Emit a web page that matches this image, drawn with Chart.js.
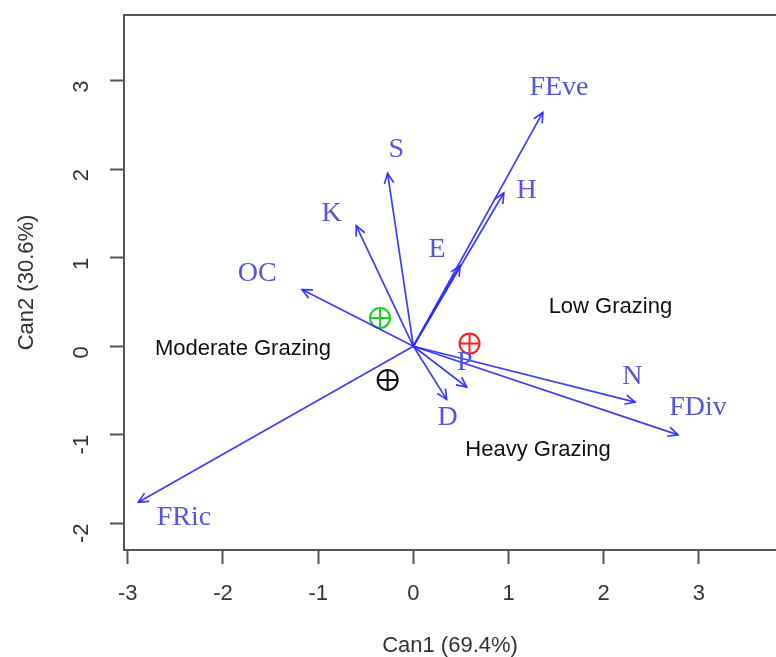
<!DOCTYPE html>
<html>
<head>
<meta charset="utf-8">
<script src="https://cdn.jsdelivr.net/npm/chart.js@4.4.0/dist/chart.umd.min.js"></script>
<style>
  html, body { margin: 0; padding: 0; background: #fff; }
  #wrap { width: 776px; height: 657px; }
</style>
</head>
<body>
<div id="wrap"><canvas id="biplot"></canvas></div>
<script>
// variable vectors (Can1, Can2)
const vars = ["FEve", "H", "E", "S", "K", "OC", "FRic", "D", "P", "N", "FDiv"];
const can1 = [1.36, 0.95, 0.49, -0.27, -0.60, -1.17, -2.89, 0.35, 0.56, 2.33, 2.78];
const can2 = [2.64, 1.73, 0.91, 1.95, 1.36, 0.64, -1.76, -0.60, -0.46, -0.63, -1.00];
// where each variable name sits
const labX = [1.53, 1.19, 0.25, -0.18, -0.86, -1.64, -2.41, 0.36, 0.54, 2.30, 2.99];
const labY = [2.92, 1.76, 1.09, 2.22, 1.50, 0.82, -1.94, -0.81, -0.19, -0.34, -0.69];

// group centroids
const groups = ["Low Grazing", "Moderate Grazing", "Heavy Grazing"];
const groupX = [0.59, -0.35, -0.27];
const groupY = [0.03, 0.32, -0.38];
const groupColors = ["#ff2020", "#22cc22", "#111111"];
const groupLabX = [2.07, -1.79, 1.31];
const groupLabY = [0.44, -0.03, -1.17];

const xTicks = [-3, -2, -1, 0, 1, 2, 3];
const yTicks = [-2, -1, 0, 1, 2, 3];

const arrowColor = "rgba(40, 40, 255, 0.9)";
const labelColor = "#5555dd";
const axisColor = "#555555";
const sans = '"Liberation Sans", Arial, sans-serif';

const datasets = [];
vars.forEach((v, i) => {
  datasets.push({
    label: v,
    data: [{ x: 0, y: 0 }, { x: can1[i], y: can2[i] }],
    showLine: true,
    borderColor: arrowColor,
    borderWidth: 1.7,
    pointRadius: 0,
    arrow: true,
  });
});
groups.forEach((g, i) => {
  datasets.push({
    label: g,
    data: [{ x: groupX[i], y: groupY[i] }],
    pointStyle: "circle",
    pointRadius: 10,
    borderColor: groupColors[i],
    backgroundColor: "rgba(0,0,0,0)",
    borderWidth: 2,
  });
  datasets.push({
    label: g + " cross",
    data: [{ x: groupX[i], y: groupY[i] }],
    pointStyle: "cross",
    pointRadius: 10,
    borderColor: groupColors[i],
    borderWidth: 2,
  });
});

const biplotExtras = {
  id: "biplotExtras",
  afterDatasetsDraw(chart) {
    const ctx = chart.ctx;
    const xs = chart.scales.x;
    const ys = chart.scales.y;
    const area = chart.chartArea;

    // arrow heads
    ctx.save();
    ctx.strokeStyle = arrowColor;
    ctx.lineWidth = 1.7;
    chart.data.datasets.forEach((ds, i) => {
      if (!ds.arrow) return;
      const pts = chart.getDatasetMeta(i).data;
      const a = pts[0], b = pts[1];
      const ang = Math.atan2(b.y - a.y, b.x - a.x);
      const len = 11, spread = Math.PI / 7;
      ctx.beginPath();
      ctx.moveTo(b.x - len * Math.cos(ang - spread), b.y - len * Math.sin(ang - spread));
      ctx.lineTo(b.x, b.y);
      ctx.lineTo(b.x - len * Math.cos(ang + spread), b.y - len * Math.sin(ang + spread));
      ctx.stroke();
    });
    ctx.restore();

    // variable names
    ctx.save();
    ctx.fillStyle = labelColor;
    ctx.font = '28px "Liberation Serif", "DejaVu Serif", serif';
    ctx.textAlign = "center";
    ctx.textBaseline = "middle";
    vars.forEach((v, i) => {
      ctx.fillText(v, xs.getPixelForValue(labX[i]), ys.getPixelForValue(labY[i]));
    });

    // group names
    ctx.fillStyle = "#111";
    ctx.font = "22px " + sans;
    groups.forEach((g, i) => {
      ctx.fillText(g, xs.getPixelForValue(groupLabX[i]), ys.getPixelForValue(groupLabY[i]));
    });
    ctx.restore();

    // top frame line (R box, right side runs off the image)
    ctx.save();
    ctx.strokeStyle = axisColor;
    ctx.lineWidth = 2;
    ctx.beginPath();
    ctx.moveTo(area.left - 1, area.top);
    ctx.lineTo(area.right + 2, area.top);
    ctx.stroke();
    ctx.restore();
  },
};

new Chart(document.getElementById("biplot"), {
  type: "scatter",
  data: { datasets },
  plugins: [biplotExtras],
  options: {
    responsive: true,
    maintainAspectRatio: false,
    animation: false,
    layout: { autoPadding: false, padding: { top: 15, right: 0, left: 0, bottom: 0 } },
    plugins: { legend: { display: false }, tooltip: { enabled: false } },
    scales: {
      x: {
        type: "linear",
        min: -3.04,
        max: 3.81,
        afterBuildTicks: (s) => { s.ticks = xTicks.map((v) => ({ value: v })); },
        afterFit: (s) => { s.height = 107; s.paddingLeft = 0; s.paddingRight = 0; },
        grid: { drawOnChartArea: false, drawTicks: true, tickLength: 14, tickColor: axisColor, tickWidth: 2 },
        border: { display: true, color: axisColor, width: 2 },
        ticks: { color: "#333", padding: 17, font: { family: sans, size: 22 } },
        title: { display: true, text: "Can1 (69.4%)", color: "#333", padding: { top: 20, bottom: -2 }, font: { family: sans, size: 22 } },
      },
      y: {
        type: "linear",
        min: -2.30,
        max: 3.74,
        afterBuildTicks: (s) => { s.ticks = yTicks.map((v) => ({ value: v })); },
        afterFit: (s) => { s.width = 124; s.paddingTop = 0; s.paddingBottom = 0; },
        grid: { drawOnChartArea: false, drawTicks: true, tickLength: 14, tickColor: axisColor, tickWidth: 2 },
        border: { display: true, color: axisColor, width: 2 },
        ticks: { color: "#333", padding: 28, minRotation: 90, maxRotation: 90, font: { family: sans, size: 22 } },
        title: { display: true, text: "Can2 (30.6%)", color: "#333", padding: { top: 14, bottom: 10 }, font: { family: sans, size: 22 } },
      },
    },
  },
});
</script>
</body>
</html>
